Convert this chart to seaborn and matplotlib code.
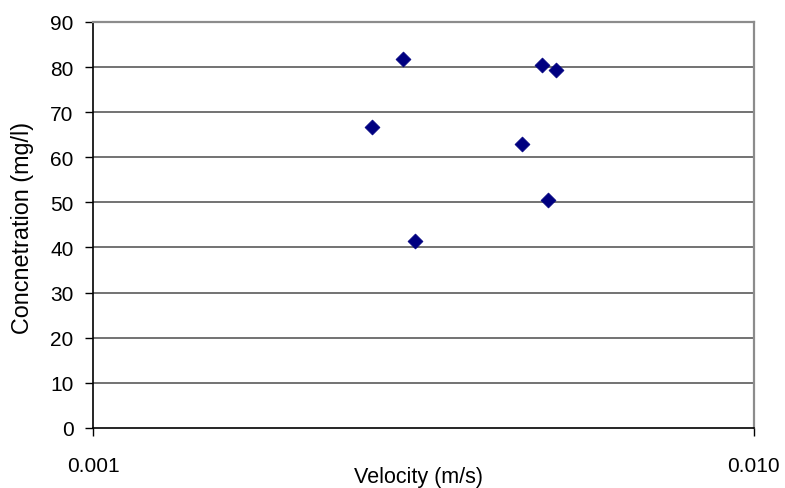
import matplotlib
matplotlib.use("Agg")
import matplotlib.pyplot as plt
import seaborn as sns
import pandas as pd
from matplotlib.ticker import FixedLocator, NullLocator, FixedFormatter

velocity = [0.00264, 0.00295, 0.00307, 0.00446, 0.00479, 0.00502, 0.00489]
concentration = [66.8, 81.7, 41.4, 62.9, 80.5, 79.3, 50.4]
x_ticks = [0.001, 0.010]
x_tick_labels = ["0.001", "0.010"]
y_ticks = [0, 10, 20, 30, 40, 50, 60, 70, 80, 90]

df = pd.DataFrame({"Velocity": velocity, "Concentration": concentration})

sns.set_theme(style="white")
plt.rcParams["font.family"] = ["Liberation Sans", "DejaVu Sans"]
plt.rcParams["text.color"] = "black"
plt.rcParams["axes.labelcolor"] = "black"
plt.rcParams["xtick.color"] = "black"
plt.rcParams["ytick.color"] = "black"

fig = plt.figure(figsize=(7.85, 4.89), dpi=100)
ax = fig.add_axes([93/785, 1-428.8/489, (753.7-93)/785, (428.8-22.9)/489])

sns.scatterplot(data=df, x="Velocity", y="Concentration", ax=ax, marker="D",
                color="#000080", edgecolor="#000080", s=58, linewidth=0.5, zorder=3)

ax.set_xscale("log")
ax.set_xlim(0.001, 0.010)
ax.set_ylim(0, 90)
ax.xaxis.set_major_locator(FixedLocator(x_ticks))
ax.xaxis.set_major_formatter(FixedFormatter(x_tick_labels))
ax.xaxis.set_minor_locator(NullLocator())
ax.set_yticks(y_ticks)

for y in y_ticks[1:]:
    ax.axhline(y, color="#5a5a5a", lw=1.2, zorder=1)

for s in ["top", "right"]:
    ax.spines[s].set_color("#8c8c8c")
    ax.spines[s].set_linewidth(1.6)
for s in ["left", "bottom"]:
    ax.spines[s].set_color("black")
    ax.spines[s].set_linewidth(1.2)

ax.tick_params(axis="y", direction="out", length=6, width=1, colors="black",
               labelsize=15, pad=8, left=True)
ax.tick_params(axis="x", direction="out", length=6, width=1, colors="black",
               labelsize=15, pad=14, bottom=True)

ax.set_xlabel("Velocity (m/s)", fontsize=15.5, labelpad=0)
ax.xaxis.set_label_coords(0.492, -0.095)
ax.set_ylabel("Concnetration (mg/l)", fontsize=16.8)
ax.yaxis.set_label_coords(-0.09, 0.494)

fig.savefig("out.png", dpi=100)
